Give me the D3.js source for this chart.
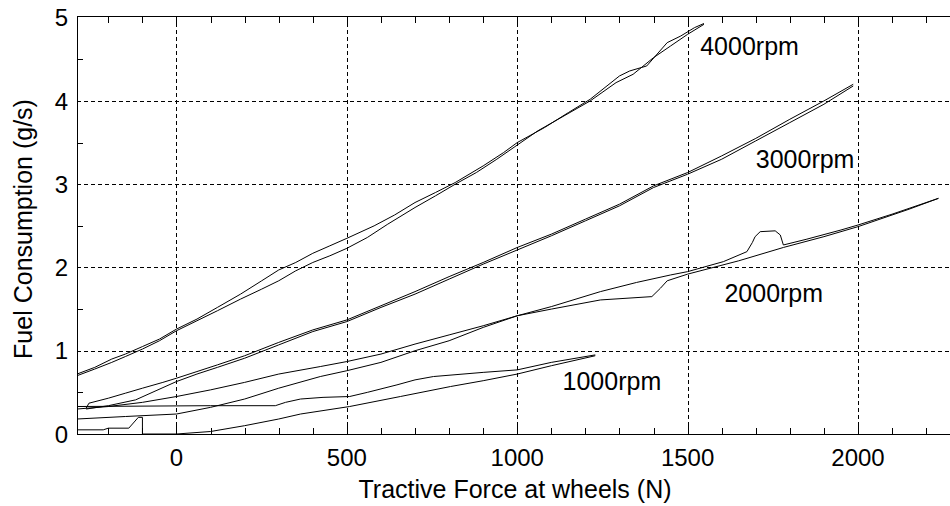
<!DOCTYPE html>
<head>
  <meta charset="utf-8">
  <script src="https://d3js.org/d3.v7.min.js"></script>
  <style>
    body { margin:0; background-color:#fff; }
    svg { display:block; font-family:"Liberation Sans", Arial, sans-serif; }
    .grid line { stroke:#000; stroke-width:1; stroke-dasharray:4,3; }
    .trace { fill:none; stroke:#000; stroke-width:1; }
  </style>
</head>
<body>
<div class="chart-container"></div>
<script>
// tick values
var xTicks = [0, 500, 1000, 1500, 2000];
var yTicks = [0, 1, 2, 3, 4, 5];
var xMinor = d3.range(-200, 2300, 100);
var yMinor = [0.5, 1.5, 2.5, 3.5, 4.5];

// each engine speed: branch going up, branch coming back  [force N, fuel g/s]
var up4000 = [[-292,0.70],[-240,0.78],[-190,0.86],[-150,0.93],[-100,1.02],[-50,1.12],[0,1.24],[60,1.36],[120,1.48],[188,1.62],[250,1.74],[300,1.84],[350,1.96],[400,2.06],[450,2.14],[500,2.23],[560,2.36],[620,2.52],[700,2.72],[760,2.86],[818,3.0],[880,3.14],[940,3.30],[1000,3.47],[1060,3.64],[1120,3.78],[1214,4.0],[1290,4.22],[1340,4.32],[1400,4.52],[1450,4.66],[1500,4.80],[1548,4.92]];
var down4000 = [[1548,4.93],[1520,4.88],[1480,4.78],[1440,4.70],[1380,4.42],[1330,4.36],[1300,4.30],[1214,4.02],[1150,3.86],[1080,3.68],[1000,3.50],[960,3.38],[900,3.22],[818,3.02],[760,2.90],[700,2.78],[640,2.63],[580,2.50],[500,2.35],[450,2.26],[400,2.17],[350,2.06],[300,1.97],[250,1.84],[188,1.68],[120,1.52],[60,1.38],[0,1.26],[-50,1.14],[-100,1.05],[-150,0.96],[-190,0.90],[-240,0.80],[-292,0.72]];

var up3000 = [[-265,0.30],[-200,0.34],[-120,0.41],[-60,0.52],[0,0.63],[60,0.72],[120,0.80],[200,0.91],[300,1.07],[400,1.23],[500,1.35],[600,1.52],[700,1.68],[800,1.86],[900,2.04],[1000,2.21],[1100,2.38],[1200,2.56],[1300,2.74],[1400,2.96],[1500,3.12],[1600,3.30],[1700,3.52],[1800,3.74],[1900,3.96],[1986,4.18]];
var down3000 = [[1986,4.20],[1900,4.00],[1800,3.78],[1700,3.55],[1600,3.34],[1500,3.14],[1400,2.98],[1300,2.76],[1200,2.58],[1100,2.40],[1000,2.24],[900,2.06],[800,1.89],[700,1.71],[600,1.54],[500,1.37],[400,1.25],[300,1.10],[200,0.94],[120,0.83],[60,0.75],[0,0.67],[-40,0.62],[-100,0.55],[-150,0.49],[-200,0.43],[-257,0.37],[-265,0.31]];

var up2000 = [[-292,0.30],[-200,0.33],[-100,0.38],[0,0.45],[100,0.53],[200,0.62],[300,0.72],[422,0.81],[500,0.87],[600,0.96],[700,1.08],[800,1.19],[900,1.30],[1000,1.42],[1100,1.53],[1244,1.71],[1350,1.82],[1450,1.91],[1500,1.95],[1605,2.07],[1674,2.19],[1690,2.30],[1698,2.37],[1713,2.43],[1757,2.44],[1772,2.39],[1781,2.27],[1850,2.34],[1950,2.45],[2000,2.51],[2100,2.64],[2236,2.83]];
var down2000 = [[2236,2.83],[2150,2.70],[2000,2.49],[1900,2.37],[1781,2.24],[1650,2.08],[1500,1.92],[1440,1.84],[1420,1.75],[1395,1.65],[1244,1.61],[1100,1.50],[1000,1.42],[900,1.28],[800,1.12],[700,1.00],[600,0.86],[500,0.76],[422,0.69],[300,0.55],[200,0.42],[100,0.32],[0,0.24],[-150,0.21],[-292,0.18]];

var up1000 = [[-292,0.05],[-215,0.05],[-200,0.07],[-140,0.07],[-112,0.20],[-100,0.20],[-100,0.0],[0,0.0],[100,0.03],[200,0.10],[300,0.18],[364,0.24],[508,0.33],[657,0.45],[804,0.57],[900,0.64],[1000,0.72],[1100,0.82],[1229,0.94]];
var down1000 = [[1229,0.95],[1100,0.86],[1000,0.77],[900,0.74],[754,0.69],[700,0.65],[647,0.59],[560,0.50],[508,0.45],[430,0.44],[364,0.42],[320,0.38],[290,0.34],[100,0.34],[-292,0.33]];

var rpmNames = ["4000rpm", "3000rpm", "2000rpm", "1000rpm"];
var rpmLabelAt = [[1537,4.55],[1700,3.2],[1608,1.58],[1133,0.53]];

var width = 950, height = 506;
var svg = d3.select(".chart-container").append("svg")
  .attr("width", width)
  .attr("height", height);

var x = d3.scaleLinear().domain([-292, 2270]).range([77, 950]);
var y = d3.scaleLinear().domain([0, 5.02]).range([434, 16]);

// dashed grid
var grid = svg.append("g").attr("class", "grid");
grid.selectAll(".vx").data(xTicks).enter().append("line")
  .attr("x1", function(d){ return Math.round(x(d)) + 0.5; })
  .attr("x2", function(d){ return Math.round(x(d)) + 0.5; })
  .attr("y1", y.range()[1]).attr("y2", y.range()[0]);
grid.selectAll(".hy").data(yTicks.filter(function(d){ return d > 0 && d < 5; })).enter().append("line")
  .attr("y1", function(d){ return Math.round(y(d)) + 0.5; })
  .attr("y2", function(d){ return Math.round(y(d)) + 0.5; })
  .attr("x1", x.range()[0]).attr("x2", x.range()[1]);

// traces
var line = d3.line()
  .x(function(d){ return x(d[0]); })
  .y(function(d){ return y(d[1]); });

svg.append("clipPath").attr("id", "plotclip").append("rect")
  .attr("x", 77).attr("y", 16).attr("width", 873).attr("height", 418);

var traces = [up4000, down4000, up3000, down3000, up2000, down2000, up1000, down1000];
svg.append("g").attr("clip-path", "url(#plotclip)")
  .selectAll("path").data(traces).enter().append("path")
  .attr("class", "trace")
  .attr("d", line);

// frame + ticks
var frame = svg.append("g").attr("stroke", "#000").attr("stroke-width", 1);
frame.append("line").attr("x1", 77).attr("x2", 950).attr("y1", 16.5).attr("y2", 16.5);
frame.append("line").attr("x1", 77).attr("x2", 950).attr("y1", 434.5).attr("y2", 434.5);
frame.append("line").attr("x1", 77.5).attr("x2", 77.5).attr("y1", 16).attr("y2", 435);

xMinor.forEach(function(d){
  var px = Math.round(x(d)) + 0.5;
  var len = (d % 500 === 0) ? 10 : 6;
  frame.append("line").attr("x1", px).attr("x2", px).attr("y1", 434).attr("y2", 434 - len);
  frame.append("line").attr("x1", px).attr("x2", px).attr("y1", 16).attr("y2", 16 + len + 1);
});
yMinor.forEach(function(d){
  var py = Math.round(y(d)) + 0.5;
  frame.append("line").attr("x1", 77).attr("x2", 83).attr("y1", py).attr("y2", py);
});

// tick labels
svg.append("g").selectAll("text").data(xTicks).enter().append("text")
  .attr("x", function(d){ return x(d); })
  .attr("y", 466)
  .attr("text-anchor", "middle")
  .attr("font-size", 24)
  .text(function(d){ return d; });

svg.append("g").selectAll("text").data(yTicks).enter().append("text")
  .attr("x", 68)
  .attr("y", function(d){ return y(d); })
  .attr("dy", "0.36em")
  .attr("text-anchor", "end")
  .attr("font-size", 24)
  .text(function(d){ return d; });

// axis titles
svg.append("text")
  .attr("x", 515).attr("y", 498)
  .attr("text-anchor", "middle")
  .attr("font-size", 25)
  .text("Tractive Force at wheels (N)");

svg.append("text")
  .attr("transform", "translate(32,229) rotate(-90)")
  .attr("text-anchor", "middle")
  .attr("font-size", 25)
  .text("Fuel Consumption (g/s)");

// rpm labels
svg.append("g").selectAll("text").data(rpmNames).enter().append("text")
  .attr("x", function(d, i){ return x(rpmLabelAt[i][0]); })
  .attr("y", function(d, i){ return y(rpmLabelAt[i][1]); })
  .attr("font-size", 25)
  .text(function(d){ return d; });
</script>
</body>
